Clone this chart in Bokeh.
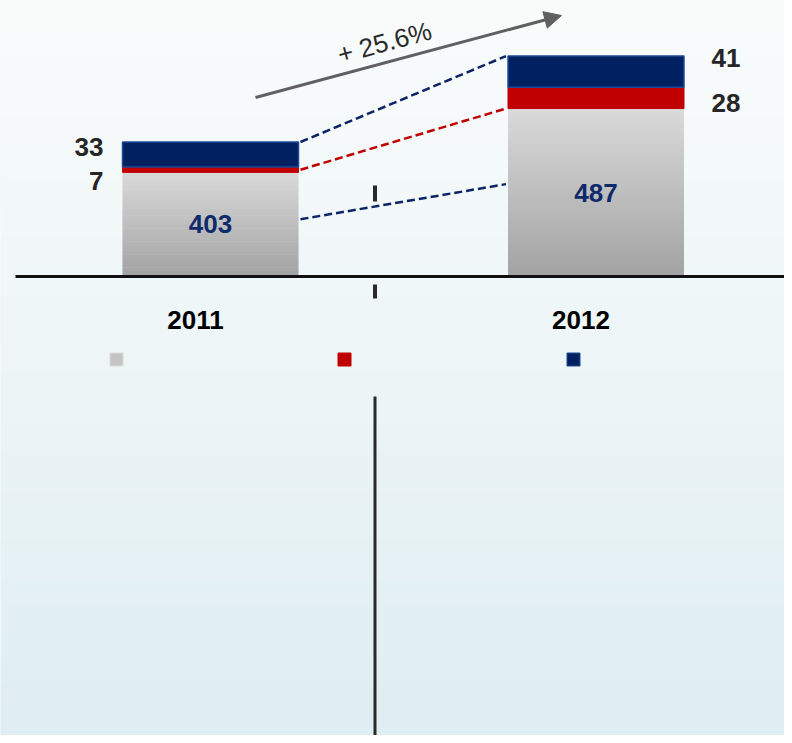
import numpy as np
from bokeh.plotting import figure
from bokeh.models import Range1d, Arrow, NormalHead
from bokeh.core.properties import value
from bokeh.embed import file_html
from bokeh.resources import INLINE

# ---------------- data ----------------
years = ["2011", "2012"]
grey_vals = [403, 487]
red_vals = [7, 28]
navy_vals = [33, 41]
growth_label = "+ 25.6%"
AXIS_BASE = 266  # value at the (broken) baseline of the chart

# ---------------- layout ----------------
W, H = 784, 735
PX_PER_VAL = 0.76
BASE_PAGE_Y = 276
PX_PER_X = 385.5
X_CENTER = [0.5, 1.5]
BAR_W = 176 / PX_PER_X

x0 = 0.5 - 210 / PX_PER_X
x1 = x0 + W / PX_PER_X
y_top = AXIS_BASE + BASE_PAGE_Y / PX_PER_VAL
y_bot = AXIS_BASE - (H - BASE_PAGE_Y) / PX_PER_VAL


def px2x(px):
    return x0 + px / PX_PER_X


def px2y(py):
    return AXIS_BASE + (BASE_PAGE_Y - py) / PX_PER_VAL


def dy(px):
    return px / PX_PER_VAL


def dx(px):
    return px / PX_PER_X


p = figure(width=W, height=H, output_backend="svg", toolbar_location=None,
           x_range=Range1d(x0, x1), y_range=Range1d(y_bot, y_top),
           x_axis_location=None, y_axis_location=None, min_border=0)
p.grid.visible = False
p.outline_line_color = None
p.background_fill_color = "#eef6f8"
p.border_fill_color = "#eef6f8"

# background gradient
rows = 256
img = np.zeros((rows, 1), dtype=np.uint32)
view = img.view(dtype=np.uint8).reshape((rows, 1, 4))
c_top = np.array([0xfa, 0xfc, 0xfc])
c_mid = np.array([0xf0, 0xf7, 0xf8])
c_bot = np.array([0xdf, 0xee, 0xf2])
for r in range(rows):
    t = r / (rows - 1)  # 0 bottom -> 1 top
    if t > 0.6:
        s = (t - 0.6) / 0.4
        c = c_mid + (c_top - c_mid) * s
    else:
        s = t / 0.6
        c = c_bot + (c_mid - c_bot) * s
    view[r, 0, 0:3] = c.astype(np.uint8)
    view[r, 0, 3] = 255
p.image_rgba(image=[img], x=x0, y=y_bot, dw=x1 - x0, dh=y_top - y_bot, level="image")

# grey bars with vertical gradient
N = 48
g_bot = np.array([0xa3, 0xa3, 0xa3])
g_top = np.array([0xda, 0xda, 0xda])
L, R, B, T, C = [], [], [], [], []
for xc, v in zip(X_CENTER, grey_vals):
    for j in range(N):
        b = AXIS_BASE + (v - AXIS_BASE) * j / N
        t = AXIS_BASE + (v - AXIS_BASE) * (j + 1) / N
        f = (j + 0.5) / N
        c = (g_bot + (g_top - g_bot) * f).astype(int)
        L.append(xc - BAR_W / 2)
        R.append(xc + BAR_W / 2)
        B.append(b)
        T.append(min(v, t + dy(0.6)))
        C.append("#%02x%02x%02x" % tuple(c))
p.quad(left=L, right=R, bottom=B, top=T, fill_color=C, line_color=None)

red_bottom = grey_vals
red_top = [g + r for g, r in zip(grey_vals, red_vals)]
navy_top = [rt + n for rt, n in zip(red_top, navy_vals)]

p.vbar(x=X_CENTER, width=BAR_W, bottom=red_bottom, top=red_top,
       fill_color="#c00000", line_color="#c00000", line_width=1)
p.vbar(x=X_CENTER, width=BAR_W, bottom=red_top, top=navy_top,
       fill_color="#002060", line_color="#1f4a98", line_width=1.5)

# baseline
p.segment(x0=[px2x(15)], y0=[AXIS_BASE], x1=[px2x(792)], y1=[AXIS_BASE],
          line_color="#111111", line_width=3)

# connecting dashed lines
lx = X_CENTER[0] + BAR_W / 2 + dx(2)
rx = X_CENTER[1] - BAR_W / 2 - dx(2)
p.segment(x0=[lx], y0=[navy_top[0]], x1=[rx], y1=[navy_top[1]],
          line_color="#0a2466", line_width=2.5, line_dash="8 4")
p.segment(x0=[lx], y0=[grey_vals[0] + red_vals[0] / 2], x1=[rx], y1=[grey_vals[1]],
          line_color="#c00000", line_width=2.5, line_dash="8 4")
low = [AXIS_BASE + (v - AXIS_BASE) * 0.55 for v in grey_vals]
p.segment(x0=[lx], y0=[low[0]], x1=[rx], y1=[low[1]],
          line_color="#0a2466", line_width=2.5, line_dash="8 4")

# divider pieces
p.segment(x0=[px2x(374.5)] * 3, y0=[px2y(185), px2y(284), px2y(396)],
          x1=[px2x(374.5)] * 3, y1=[px2y(201), px2y(298), px2y(743)],
          line_color="#2a2a2a", line_width=[4, 4, 3])

# growth arrow
p.add_layout(Arrow(end=NormalHead(size=17, fill_color="#606060", line_color="#606060"),
                   x_start=px2x(255), y_start=px2y(97), x_end=px2x(561), y_end=px2y(15),
                   line_color="#606060", line_width=3))
p.text(x=[px2x(384)], y=[px2y(42)], text=[growth_label], angle=0.265,
       text_font=value("Liberation Sans"), text_font_size="26px",
       text_color="#2a2a2a", text_align="center", text_baseline="middle")

# values inside grey bars
grey_mid = [(AXIS_BASE + v) / 2 for v in grey_vals]
p.text(x=X_CENTER, y=grey_mid, text=[str(v) for v in grey_vals],
       text_font=value("Liberation Sans"), text_font_style="bold", text_font_size="26px",
       text_color="#0f2a6b", text_align="center", text_baseline="middle")

# side labels
red_mid = [(a + b) / 2 for a, b in zip(red_bottom, red_top)]
navy_mid = [(a + b) / 2 for a, b in zip(red_top, navy_top)]
p.text(x=[px2x(103)] * 2, y=[navy_mid[0] + dy(8), red_mid[0] - dy(11)],
       text=[str(navy_vals[0]), str(red_vals[0])],
       text_font=value("Liberation Sans"), text_font_style="bold", text_font_size="26px",
       text_color="#262626", text_align="right", text_baseline="middle")
p.text(x=[px2x(711)] * 2, y=[navy_mid[1] + dy(14), red_mid[1] - dy(5)],
       text=[str(navy_vals[1]), str(red_vals[1])],
       text_font=value("Liberation Sans"), text_font_style="bold", text_font_size="26px",
       text_color="#262626", text_align="left", text_baseline="middle")

# year labels
p.text(x=[xc - dx(15) for xc in X_CENTER], y=[px2y(319)] * 2, text=years,
       text_font=value("Liberation Sans"), text_font_style="bold", text_font_size="26px",
       text_color="#000000", text_align="center", text_baseline="middle")

# legend squares (no text)
p.scatter(x=[px2x(116), px2x(344), px2x(573)], y=[px2y(359)] * 3, marker="square", size=13,
          fill_color=["#c4c4c4", "#c00000", "#002060"],
          line_color=["#dadada", "#c00000", "#1f4a98"], line_width=1)

open("out.html", "w").write(file_html(p, INLINE))
